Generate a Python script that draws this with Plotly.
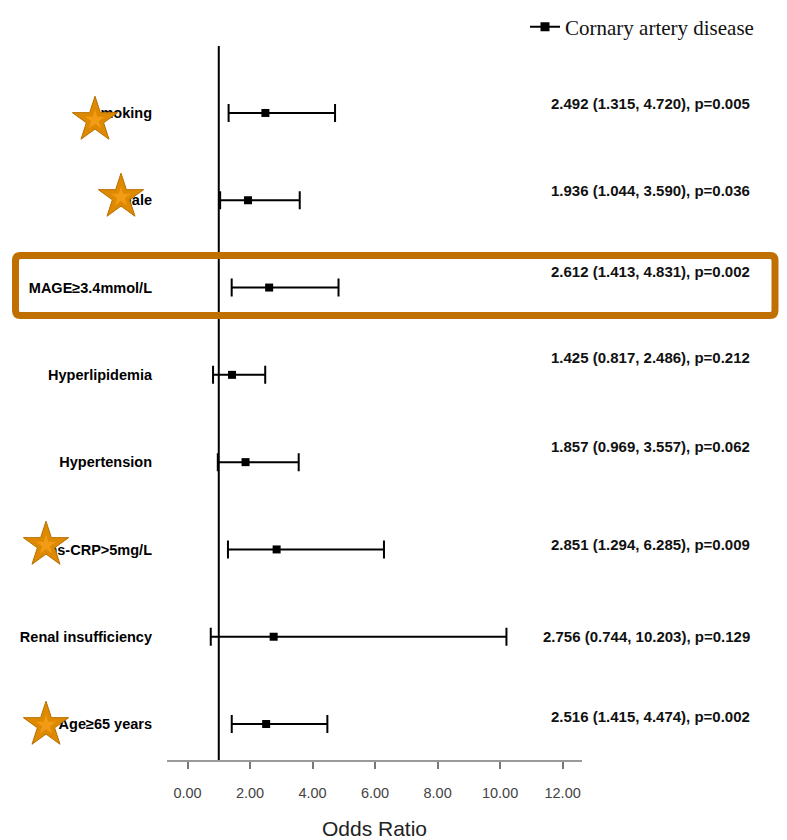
import plotly.graph_objects as go

# ---- data ----
labels = ["Smoking", "Male", "MAGE≥3.4mmol/L", "Hyperlipidemia", "Hypertension",
          "hs-CRP>5mg/L", "Renal insufficiency", "Age≥65 years"]
odds = [2.492, 1.936, 2.612, 1.425, 1.857, 2.851, 2.756, 2.516]
lower = [1.315, 1.044, 1.413, 0.817, 0.969, 1.294, 0.744, 1.415]
upper = [4.720, 3.590, 4.831, 2.486, 3.557, 6.285, 10.203, 4.474]
pvals = ["0.005", "0.036", "0.002", "0.212", "0.062", "0.009", "0.129", "0.002"]
series_name = "Cornary artery disease"
x_ticks = [0, 2, 4, 6, 8, 10, 12]
ref_line = 1.0
x_title = "Odds Ratio"

# decorative stars (page pixel positions) next to significant rows
star_px_x = [95, 121, 46, 46]
star_px_y = [120, 197, 545, 725]
# vertical text offsets (px) of the right-side annotations
text_shift = [9, 10, 16, 17, 16, 5, 0, 8]

# ---- geometry (page pixels; page body has an 8px margin) ----
OFF = 8
W, H = 787, 840 - OFF
PL, PR, PT, PB = 167 - OFF, 582 - OFF, 46 - OFF, 760 - OFF
n = len(labels)
ypos = [n - 1 - i for i in range(n)]  # first label on top


def fx(px):  # page px -> paper x
    return (px - OFF) / W


def fy(py):  # page py -> paper y
    return 1 - (py - OFF) / H


fig = go.Figure()

# forest points with CI
fig.add_trace(go.Scatter(
    x=odds, y=ypos, mode="markers",
    marker=dict(symbol="square", size=8, color="black"),
    error_x=dict(type="data", symmetric=False,
                 array=[u - o for u, o in zip(upper, odds)],
                 arrayminus=[o - l for o, l in zip(odds, lower)],
                 color="black", thickness=2, width=9),
    showlegend=False, cliponaxis=False, hoverinfo="skip"))

# legend entry
fig.add_trace(go.Scatter(
    x=[None], y=[None], mode="lines+markers", name=series_name,
    line=dict(color="black", width=2),
    marker=dict(symbol="square", size=9, color="black")))

# stars on a full-figure overlay axis (pixel units)
sx = [p - OFF for p in star_px_x]
sy = [p - OFF for p in star_px_y]
fig.add_trace(go.Scatter(
    x=sx, y=sy, xaxis="x2", yaxis="y2", mode="markers",
    marker=dict(symbol="star", size=34, color="#DE8A00",
                line=dict(color="#B86E00", width=1)),
    showlegend=False, hoverinfo="skip"))
fig.add_trace(go.Scatter(
    x=sx, y=sy, xaxis="x2", yaxis="y2", mode="markers",
    marker=dict(symbol="star", size=15, color="#F29B14", line=dict(width=0)),
    showlegend=False, hoverinfo="skip"))

# right-side texts
for i in range(n):
    fig.add_annotation(
        x=fx(752), xref="paper", y=ypos[i], yref="y",
        text=f"<b>{odds[i]:.3f} ({lower[i]:.3f}, {upper[i]:.3f}), p={pvals[i]}</b>",
        showarrow=False, xanchor="right", yanchor="middle", yshift=text_shift[i],
        font=dict(family="Liberation Sans, Arial", size=15, color="#111"))

# x axis title
fig.add_annotation(x=fx(374.5), xref="paper", y=fy(828), yref="paper",
                   text=x_title, showarrow=False, xanchor="center", yanchor="middle",
                   font=dict(family="Liberation Sans, Arial", size=21, color="#222"))

# reference line
fig.add_shape(type="line", x0=ref_line, x1=ref_line, xref="x",
              y0=0, y1=1, yref="y domain", line=dict(color="black", width=2))

# highlight rounded rectangle (pixel units on overlay axis)
x0, x1, y0, y1, r = 15.5 - OFF, 775 - OFF, 255.5 - OFF, 315.5 - OFF, 5
path = (f"M {x0+r},{y0} L {x1-r},{y0} Q {x1},{y0} {x1},{y0+r} "
        f"L {x1},{y1-r} Q {x1},{y1} {x1-r},{y1} L {x0+r},{y1} "
        f"Q {x0},{y1} {x0},{y1-r} L {x0},{y0+r} Q {x0},{y0} {x0+r},{y0} Z")
fig.add_shape(type="path", path=path, xref="x2", yref="y2",
              line=dict(color="#C07000", width=7), layer="above")

fig.update_layout(
    width=W, height=H,
    margin=dict(l=0, r=0, t=0, b=0, pad=0, autoexpand=False),
    paper_bgcolor="white", plot_bgcolor="rgba(0,0,0,0)",
    font=dict(family="Liberation Sans, Arial", color="black"),
    legend=dict(x=fx(525), y=fy(27), xanchor="left", yanchor="middle",
                font=dict(family="Liberation Serif, Times New Roman", size=21, color="#111"),
                bgcolor="rgba(0,0,0,0)", borderwidth=0),
    xaxis=dict(domain=[PL / W, PR / W], range=[-0.656, 12.62], tickvals=x_ticks,
               tickformat=".2f", automargin=False,
               showgrid=False, zeroline=False, showline=True,
               linecolor="#9a9a9a", linewidth=2, ticks="outside", ticklen=7,
               tickwidth=2, tickcolor="#777", ticklabelstandoff=12,
               tickfont=dict(size=14.5, color="#444")),
    yaxis=dict(domain=[1 - PB / H, 1 - PT / H], range=[-0.412, 7.767],
               tickvals=ypos, ticktext=labels, automargin=False,
               showgrid=False, zeroline=False, showline=False, ticks="",
               ticklabelstandoff=14,
               tickfont=dict(size=14.5, color="black", weight="bold")),
    xaxis2=dict(domain=[0, 1], range=[0, W], visible=False, fixedrange=True,
                anchor="y2"),
    yaxis2=dict(domain=[0, 1], range=[H, 0], visible=False, fixedrange=True,
                anchor="x2"),
)

fig.write_html("out.html")
